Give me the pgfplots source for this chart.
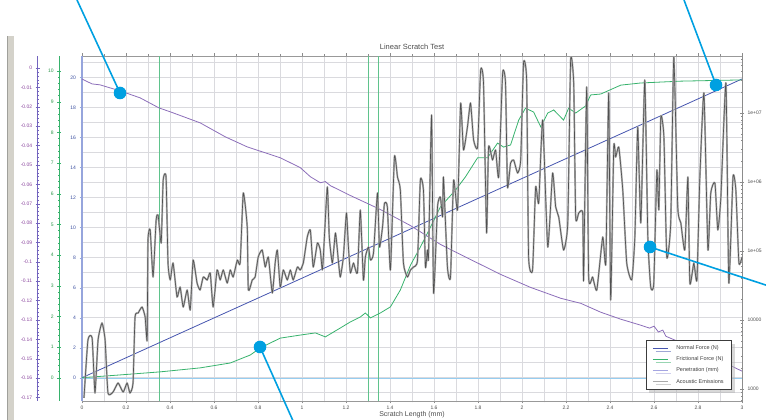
\documentclass[border=0pt]{standalone}
\usepackage{fontspec}
\setmainfont{Liberation Sans}
\usepackage{pgfplots}
\usepackage{pgfplotstable}
\pgfplotsset{compat=1.18}
\usetikzlibrary{shadows}

\definecolor{nfblue}{RGB}{70,85,175}
\definecolor{frgreen}{RGB}{55,178,108}
\definecolor{penpurple}{RGB}{140,110,185}
\definecolor{penlegend}{RGB}{165,165,225}
\definecolor{aedark}{RGB}{80,80,80}
\definecolor{aehalo}{RGB}{170,170,170}
\definecolor{gridgray}{RGB}{218,218,222}
\definecolor{labelblue}{RGB}{60,80,160}
\definecolor{axisblue}{RGB}{150,165,220}
\definecolor{labelpurple}{RGB}{135,65,155}
\definecolor{axispurple}{RGB}{115,100,190}
\definecolor{labelgreen}{RGB}{45,150,75}
\definecolor{eventgreen}{RGB}{95,195,140}
\definecolor{baseblue}{RGB}{150,205,240}
\definecolor{callout}{RGB}{0,160,225}
\definecolor{stripgray}{RGB}{212,210,202}
\definecolor{stripedge}{RGB}{160,160,155}

% Penetration depth (mm) along the scratch
\pgfplotstableread{
x y
0.000 -0.0057
0.027 -0.0072
0.046 -0.0082
0.082 -0.0087
0.173 -0.0118
0.264 -0.0154
0.350 -0.0206
0.401 -0.0226
0.537 -0.0283
0.651 -0.0355
0.751 -0.0407
0.901 -0.0463
0.992 -0.0514
1.038 -0.0561
1.083 -0.0592
1.106 -0.0586
1.129 -0.0607
1.220 -0.0658
1.356 -0.0730
1.493 -0.0813
1.629 -0.0910
1.766 -0.0988
1.903 -0.1065
2.039 -0.1132
2.176 -0.1188
2.267 -0.1214
2.358 -0.1260
2.449 -0.1296
2.540 -0.1327
2.580 -0.1342
2.600 -0.1332
2.620 -0.1362
2.640 -0.1352
2.654 -0.1384
2.813 -0.1461
3.000 -0.1564
}\pentable

% Frictional force (N)
\pgfplotstableread{
x y
0.000 0.00
0.173 0.09
0.355 0.19
0.537 0.32
0.674 0.48
0.765 0.74
0.810 0.97
0.901 1.29
0.992 1.39
1.061 1.46
1.106 1.33
1.174 1.62
1.220 1.82
1.265 1.98
1.288 2.11
1.311 1.95
1.356 2.11
1.402 2.31
1.447 2.86
1.493 3.67
1.538 4.26
1.584 4.91
1.629 5.57
1.698 6.12
1.743 6.55
1.798 7.17
1.843 7.17
1.889 7.65
1.916 7.52
1.948 7.59
1.985 8.40
2.016 8.79
2.053 8.66
2.085 8.18
2.117 8.63
2.144 8.73
2.189 8.40
2.212 8.79
2.244 8.63
2.289 8.86
2.312 9.22
2.358 9.25
2.449 9.54
2.540 9.61
2.722 9.67
3.000 9.71
}\frtable

% Acoustic emissions, stored as log10 of the signal
\pgfplotstableread{
x y
0.009 2.870
0.027 3.710
0.046 3.739
0.059 2.942
0.073 3.710
0.091 3.957
0.105 3.710
0.118 2.942
0.141 2.956
0.164 3.087
0.187 2.956
0.205 3.087
0.218 2.942
0.232 3.087
0.241 4.043
0.255 4.101
0.273 4.188
0.287 4.043
0.296 3.710
0.300 5.159
0.310 5.304
0.323 4.623
0.337 5.449
0.346 5.522
0.360 5.116
0.369 6.029
0.382 6.072
0.391 4.826
0.401 4.580
0.414 4.826
0.432 4.333
0.446 4.478
0.460 4.188
0.478 4.435
0.492 4.145
0.505 4.869
0.523 4.536
0.537 4.435
0.551 4.623
0.569 4.580
0.583 4.681
0.596 4.188
0.614 4.725
0.628 4.580
0.642 4.725
0.660 4.536
0.674 4.725
0.687 4.623
0.706 4.869
0.719 4.826
0.733 5.841
0.751 5.348
0.756 4.435
0.774 4.580
0.787 4.623
0.801 4.913
0.819 5.014
0.833 4.768
0.847 4.913
0.865 4.391
0.878 4.826
0.888 5.014
0.901 4.478
0.915 4.725
0.933 4.580
0.947 4.725
0.960 4.580
0.979 4.768
0.992 4.725
1.006 4.826
1.024 5.203
1.038 5.304
1.051 4.768
1.070 5.116
1.083 5.014
1.092 4.725
1.097 4.913
1.115 5.928
1.124 5.203
1.138 4.826
1.152 5.261
1.165 4.869
1.174 4.623
1.188 4.913
1.202 5.551
1.211 5.058
1.220 4.681
1.234 4.826
1.252 4.681
1.265 5.594
1.279 4.580
1.288 4.913
1.302 5.058
1.311 4.869
1.325 4.971
1.343 5.841
1.352 5.058
1.366 5.348
1.375 5.696
1.388 5.638
1.402 4.725
1.420 6.362
1.434 6.072
1.447 5.884
1.461 4.826
1.479 4.623
1.493 4.725
1.507 4.768
1.525 4.869
1.538 6.029
1.552 5.884
1.561 4.768
1.570 5.014
1.575 4.913
1.589 6.971
1.598 4.391
1.616 5.638
1.629 5.783
1.639 5.493
1.643 6.072
1.661 4.768
1.675 4.623
1.689 6.029
1.707 5.594
1.721 7.145
1.734 6.464
1.752 6.797
1.766 7.145
1.780 6.609
1.798 6.507
1.812 7.623
1.825 7.435
1.839 5.261
1.848 6.507
1.866 6.319
1.880 6.464
1.894 6.072
1.912 7.580
1.925 7.435
1.934 5.928
1.948 6.275
1.962 6.319
1.980 6.130
1.994 6.319
2.007 7.725
2.021 7.478
2.030 4.913
2.048 4.725
2.062 5.928
2.076 5.696
2.094 6.899
2.117 5.058
2.139 6.130
2.153 5.638
2.167 5.493
2.189 5.014
2.208 5.406
2.221 7.768
2.235 7.435
2.244 5.493
2.258 5.551
2.276 5.551
2.280 4.580
2.294 7.377
2.303 4.623
2.321 4.623
2.340 4.435
2.367 5.203
2.381 4.826
2.394 7.290
2.403 4.290
2.417 6.507
2.426 6.362
2.440 6.507
2.458 5.884
2.476 4.826
2.499 4.580
2.513 5.203
2.526 6.797
2.540 5.406
2.558 7.478
2.572 5.203
2.585 4.478
2.599 4.536
2.613 6.174
2.622 5.594
2.631 6.942
2.645 6.652
2.658 4.913
2.676 5.406
2.690 7.812
2.708 5.638
2.722 5.406
2.740 5.014
2.754 6.072
2.763 4.536
2.781 4.826
2.795 4.580
2.808 6.029
2.827 7.290
2.845 5.014
2.858 5.841
2.877 5.985
2.890 5.304
2.904 5.783
2.927 7.435
2.940 4.536
2.959 6.072
2.972 5.884
2.986 4.826
3.000 4.913
}\aetable

\pgfplotsset{
  layer/.style={
    scale only axis, width=660pt, height=345pt,
    at={(82pt,19pt)}, anchor=south west,
    xmin=0, xmax=3,
    /pgf/number format/assume math mode=true,
    tick label style={font=\fontsize{5}{6}\selectfont},
    clip mode=individual,
  },
}

\begin{document}
\begin{tikzpicture}
\useasboundingbox (0,0) rectangle (766pt,420pt);
\fill[stripgray] (7pt,0) rectangle (14pt,384pt);
\draw[stripedge, line width=0.6pt] (7.3pt,0) -- (7.3pt,384pt);

% Normal force axis, grid, x axis and event markers
\begin{axis}[layer,
  ymin=-1.55, ymax=21.43,
  xtick={0,0.2,0.4,0.6,0.8,1,1.2,1.4,1.6,1.8,2,2.2,2.4,2.6,2.8,3},
  minor x tick num=1,
  ytick={0,2,...,20},
  minor ytick={-1,1,...,21},
  ytick pos=left,
  grid=both,
  grid style={draw=gridgray, line width=0.5pt},
  axis line style={draw=none},
  tick align=outside,
  major tick length=2.5pt, minor tick length=1.5pt,
  x tick style={draw=black!45},
  y tick style={draw=axisblue},
  xticklabel style={text=black!70, yshift=1pt},
  yticklabel style={text=labelblue},
  title={Linear Scratch Test},
  title style={font=\fontsize{7.5}{9}\selectfont, text=black!70, yshift=-3pt},
  xlabel={Scratch Length (mm)},
  xlabel style={font=\fontsize{7}{8}\selectfont, text=black!70, yshift=5pt},
]
\draw[black!40, line width=0.6pt] (rel axis cs:0,1) -- (rel axis cs:1,1);
\draw[black!40, line width=0.6pt] (rel axis cs:0,0) -- (rel axis cs:1,0);
\draw[axisblue, line width=1.4pt] (rel axis cs:0,0) -- (rel axis cs:0,1);
\addplot[draw=baseblue, line width=1pt] coordinates {(0,-0.02) (3,-0.02)};
% event markers as thin filled strips
\addplot[draw=none, fill=eventgreen] coordinates {(0.350,-1.55) (0.354,-1.55) (0.354,21.43) (0.350,21.43)} --cycle;
\addplot[draw=none, fill=eventgreen] coordinates {(1.300,-1.55) (1.304,-1.55) (1.304,21.43) (1.300,21.43)} --cycle;
\addplot[draw=none, fill=eventgreen] coordinates {(1.345,-1.55) (1.349,-1.55) (1.349,21.43) (1.345,21.43)} --cycle;
\addplot[draw=nfblue, line width=0.8pt] coordinates {(0,0) (0.5,3.32) (1,6.63) (1.5,9.95) (2,13.27) (2.5,16.58) (3,19.9)};
\end{axis}

% Frictional force axis
\begin{axis}[layer,
  at={(59.3pt,19pt)}, width=682.7pt, xmin=-0.1033,
  ymin=-0.76, ymax=10.49,
  axis x line=none, axis y line=left,
  axis line style={-, draw=frgreen, line width=0.8pt},
  ytick={0,...,10}, minor y tick num=4,
  tick align=center,
  major tick length=4pt, minor tick length=2pt,
  y tick style={draw=frgreen},
  yticklabel style={text=labelgreen},
]
\addplot[draw=frgreen, line width=0.8pt] table {\frtable};
\end{axis}

% Penetration axis
\begin{axis}[layer,
  at={(37.7pt,19pt)}, width=704.3pt, xmin=-0.2016,
  ymin=-0.1718, ymax=0.0062,
  axis x line=none, axis y line=left,
  axis line style={-, draw=axispurple, line width=0.6pt},
  ytick={0,-0.01,-0.02,-0.03,-0.04,-0.05,-0.06,-0.07,-0.08,-0.09,-0.1,-0.11,-0.12,-0.13,-0.14,-0.15,-0.16,-0.17},
  yticklabels={0,-0.01,-0.02,-0.03,-0.04,-0.05,-0.06,-0.07,-0.08,-0.09,-0.1,-0.11,-0.12,-0.13,-0.14,-0.15,-0.16,-0.17},
  minor y tick num=4,
  tick align=center,
  major tick length=4pt, minor tick length=2pt,
  y tick style={draw=axispurple},
  yticklabel style={text=labelpurple},
]
\addplot[draw=penpurple, line width=0.8pt] table {\pentable};
\end{axis}

% Acoustic emission axis (logarithmic scale) and legend
\begin{axis}[layer,
  ymin=2.826, ymax=7.826,
  axis x line=none, axis y line=right,
  axis line style={-, draw=black!45, line width=0.8pt},
  ytick={3,4,5,6,7},
  yticklabels={1000,10000,1e+05,1e+06,1e+07},
  minor ytick={2.845,2.903,2.954,
    3.301,3.477,3.602,3.699,3.778,3.845,3.903,3.954,
    4.301,4.477,4.602,4.699,4.778,4.845,4.903,4.954,
    5.301,5.477,5.602,5.699,5.778,5.845,5.903,5.954,
    6.301,6.477,6.602,6.699,6.778,6.845,6.903,6.954,
    7.301,7.477,7.602,7.699,7.778},
  tick align=center,
  major tick length=4pt, minor tick length=2pt,
  y tick style={draw=black!45},
  yticklabel style={text=black!70},
  legend cell align=left,
  legend image code/.code={\draw[#1] (0pt,0pt) -- (15pt,0pt);},
  legend style={at={(0.985,0.032)}, anchor=south east,
    draw={rgb,255:red,60;green,60;blue,60}, line width=0.8pt, fill=white,
    font=\fontsize{5.5}{6.5}\selectfont, text=black!75,
    row sep=1.6pt, inner xsep=6pt, inner ysep=3pt,
    /tikz/every odd column/.append style={column sep=6pt},
    /tikz/every even column/.append style={column sep=8pt},
    drop shadow={shadow xshift=3pt, shadow yshift=-3pt, fill=black!30}},
]
\addlegendimage{nfblue, line width=1pt}
\addlegendentry{Normal Force (N)}
\addlegendimage{frgreen, line width=1pt}
\addlegendentry{Frictional Force (N)}
\addlegendimage{penlegend, line width=1pt}
\addlegendentry{Penetration (mm)}
\addlegendimage{aehalo, line width=1pt}
\addlegendentry{Acoustic Emissions}
\addplot[draw=aehalo, line width=1.8pt, line join=round, smooth, tension=0.3, forget plot] table {\aetable};
\addplot[draw=aedark, line width=0.6pt, line join=round, smooth, tension=0.3, forget plot] table {\aetable};
\end{axis}

% Callouts
\draw[callout, line width=1.6pt] (77pt,420pt) -- (120pt,327pt);
\fill[callout] (120pt,327pt) circle (6.3pt);
\draw[callout, line width=1.6pt] (684pt,420pt) -- (716pt,335pt);
\fill[callout] (716pt,335pt) circle (6.3pt);
\draw[callout, line width=1.6pt] (650pt,173pt) -- (790pt,127pt);
\fill[callout] (650pt,173pt) circle (6.3pt);
\draw[callout, line width=1.6pt] (260pt,73pt) -- (298pt,-12pt);
\fill[callout] (260pt,73pt) circle (6.3pt);
\end{tikzpicture}
\end{document}
